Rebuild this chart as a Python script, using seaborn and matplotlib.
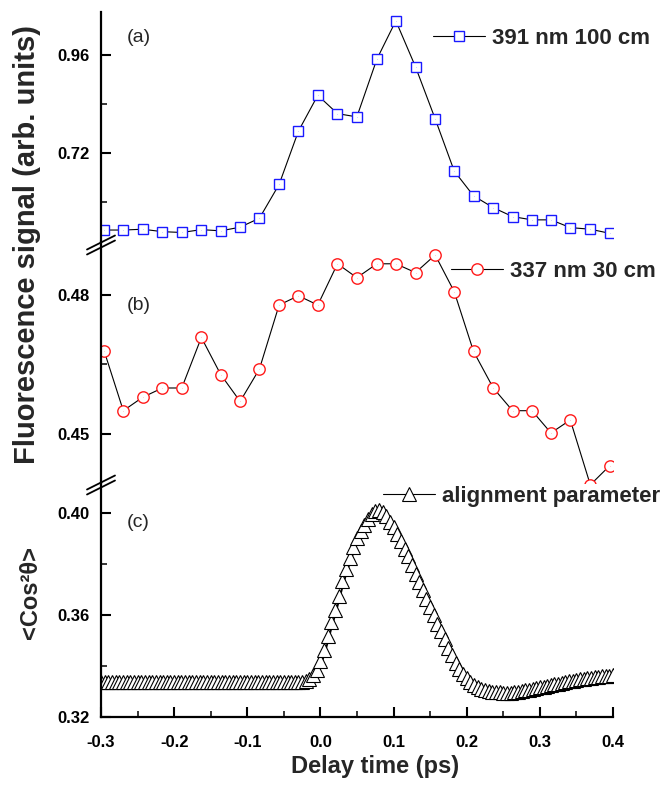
import matplotlib
matplotlib.use("Agg")
import matplotlib.pyplot as plt
import matplotlib.transforms as mtransforms
from matplotlib.lines import Line2D
from matplotlib.ticker import MultipleLocator, FormatStrFormatter
import seaborn as sns

# ---------------- data ----------------
delay_fluor = [-0.2955, -0.2695, -0.2430, -0.2161, -0.1896, -0.1628, -0.1363,
               -0.1098, -0.0834, -0.0565, -0.0301, -0.0036, 0.0233, 0.0498,
               0.0772, 0.1031, 0.1300, 0.1569, 0.1829, 0.2093, 0.2363,
               0.2627, 0.2892, 0.3152, 0.3416, 0.3690, 0.3953]

signal_391 = [0.530, 0.530, 0.532, 0.526, 0.524, 0.531, 0.528, 0.537, 0.559,
              0.642, 0.773, 0.861, 0.816, 0.808, 0.950, 1.044, 0.931, 0.803,
              0.675, 0.614, 0.585, 0.563, 0.555, 0.555, 0.536, 0.532, 0.522]

signal_337 = [0.4678, 0.4550, 0.4579, 0.4599, 0.4599, 0.4708, 0.4628, 0.4570,
              0.4640, 0.4778, 0.4798, 0.4778, 0.4867, 0.4837, 0.4867, 0.4867,
              0.4848, 0.4886, 0.4807, 0.4678, 0.4599, 0.4550, 0.4550, 0.4502,
              0.4530, 0.4390, 0.4431]

delay_align = [
    -0.300, -0.295, -0.290, -0.285, -0.280, -0.275, -0.270, -0.265, -0.260, -0.255,
    -0.250, -0.245, -0.240, -0.235, -0.230, -0.225, -0.220, -0.215, -0.210, -0.205,
    -0.200, -0.195, -0.190, -0.185, -0.180, -0.175, -0.170, -0.165, -0.160, -0.155,
    -0.150, -0.145, -0.140, -0.135, -0.130, -0.125, -0.120, -0.115, -0.110, -0.105,
    -0.100, -0.095, -0.090, -0.085, -0.080, -0.075, -0.070, -0.065, -0.060, -0.055,
    -0.050, -0.045, -0.040, -0.035, -0.030, -0.025, -0.020, -0.015, -0.010, -0.005,
    0.000, 0.005, 0.010, 0.015, 0.020, 0.025, 0.030, 0.035, 0.040, 0.045,
    0.050, 0.055, 0.060, 0.065, 0.070, 0.075, 0.080, 0.085, 0.090, 0.095,
    0.100, 0.105, 0.110, 0.115, 0.120, 0.125, 0.130, 0.135, 0.140, 0.145,
    0.150, 0.155, 0.160, 0.165, 0.170, 0.175, 0.180, 0.185, 0.190, 0.195,
    0.200, 0.205, 0.210, 0.215, 0.220, 0.225, 0.230, 0.235, 0.240, 0.245,
    0.250, 0.255, 0.260, 0.265, 0.270, 0.275, 0.280, 0.285, 0.290, 0.295,
    0.300, 0.305, 0.310, 0.315, 0.320, 0.325, 0.330, 0.335, 0.340, 0.345,
    0.350, 0.355, 0.360, 0.365, 0.370, 0.375, 0.380, 0.385, 0.390, 0.395,
    0.400]

cos2theta = [
    0.3335, 0.3335, 0.3335, 0.3335, 0.3335, 0.3335, 0.3335, 0.3335, 0.3335, 0.3335,
    0.3335, 0.3335, 0.3335, 0.3335, 0.3335, 0.3335, 0.3335, 0.3335, 0.3335, 0.3335,
    0.3335, 0.3335, 0.3335, 0.3335, 0.3335, 0.3335, 0.3335, 0.3335, 0.3335, 0.3335,
    0.3335, 0.3335, 0.3335, 0.3335, 0.3335, 0.3335, 0.3335, 0.3335, 0.3335, 0.3335,
    0.3335, 0.3335, 0.3335, 0.3335, 0.3335, 0.3335, 0.3335, 0.3335, 0.3335, 0.3335,
    0.3335, 0.3335, 0.3335, 0.3335, 0.3336, 0.3337, 0.3339, 0.3348, 0.3362, 0.3383,
    0.3418, 0.3462, 0.3515, 0.3570, 0.3620, 0.3674, 0.3730, 0.3779, 0.3822, 0.3864,
    0.3900, 0.3928, 0.3953, 0.3976, 0.3994, 0.4005, 0.4010, 0.4003, 0.3987, 0.3963,
    0.3943, 0.3917, 0.3888, 0.3858, 0.3829, 0.3796, 0.3761, 0.3729, 0.3696, 0.3661,
    0.3630, 0.3597, 0.3565, 0.3535, 0.3505, 0.3470, 0.3440, 0.3412, 0.3388, 0.3367,
    0.3350, 0.3336, 0.3325, 0.3316, 0.3309, 0.3304, 0.3300, 0.3298, 0.3296, 0.3295,
    0.3294, 0.3294, 0.3294, 0.3295, 0.3297, 0.3300, 0.3303, 0.3306, 0.3309, 0.3312,
    0.3315, 0.3318, 0.3321, 0.3324, 0.3327, 0.3330, 0.3333, 0.3336, 0.3339, 0.3341,
    0.3344, 0.3346, 0.3348, 0.3350, 0.3352, 0.3354, 0.3356, 0.3358, 0.3360, 0.3361,
    0.3363]

label_391 = "391 nm 100 cm"
label_337 = "337 nm 30 cm"
label_align = "alignment parameter"

# ---------------- style ----------------
sns.set_theme(style="white")
plt.rcParams["font.family"] = ["Liberation Sans", "DejaVu Sans"]
plt.rcParams["font.weight"] = "bold"
plt.rcParams["axes.unicode_minus"] = False

BLUE = "#1a1aff"
RED = "#ff1a1a"

W, H = 661, 785
fig = plt.figure(figsize=(W / 100, H / 100), dpi=100)


def fy(p):
    return 1 - p / H


L, R = 101 / W, 613 / W
ax_a = fig.add_axes([L, fy(242), R - L, fy(12) - fy(242)])
ax_b = fig.add_axes([L, fy(483), R - L, fy(242) - fy(483)])
ax_c = fig.add_axes([L, fy(716.7), R - L, fy(483) - fy(716.7)])

TRI = 9.6

# ---------------- panel (a) ----------------
sns.lineplot(x=delay_fluor, y=signal_391, ax=ax_a, color="black", linewidth=0.8,
             marker="s", markersize=7.5, markerfacecolor="white",
             markeredgecolor=BLUE, markeredgewidth=1.0, zorder=2)
sns.scatterplot(x=delay_fluor, y=signal_391, ax=ax_a, marker=".", s=2,
                color=BLUE, linewidth=0, legend=False, zorder=3)

# ---------------- panel (b) ----------------
sns.lineplot(x=delay_fluor, y=signal_337, ax=ax_b, color="black", linewidth=0.8,
             marker="o", markersize=8.2, markerfacecolor="white",
             markeredgecolor=RED, markeredgewidth=1.0, zorder=2)
sns.scatterplot(x=delay_fluor, y=signal_337, ax=ax_b, marker=".", s=2,
                color=RED, linewidth=0, legend=False, zorder=3)

# ---------------- panel (c) ----------------
line_off = mtransforms.offset_copy(ax_c.transData, fig=fig, x=0.5, y=-4, units="dots")
sns.lineplot(x=delay_align, y=cos2theta, ax=ax_c, color="black", linewidth=1.3,
             transform=line_off, zorder=1)
sns.lineplot(x=delay_align, y=cos2theta, ax=ax_c, linestyle="", marker="^",
             markersize=TRI, markerfacecolor="white", markeredgecolor="black",
             markeredgewidth=0.8, zorder=2)

# ---------------- axes styling ----------------
limits = {ax_a: (0.5006, 1.0657), ax_b: (0.4394, 0.4914), ax_c: (0.32, 0.4116)}
steps = {ax_a: (0.24, 0.12), ax_b: (0.03, 0.015), ax_c: (0.04, 0.02)}
for ax in (ax_a, ax_b, ax_c):
    ax.set_xlim(-0.3, 0.4)
    ax.set_ylim(*limits[ax])
    ax.set_facecolor("none")
    for s in ("top", "right", "bottom"):
        ax.spines[s].set_visible(False)
    ax.spines["left"].set_color("black")
    ax.spines["left"].set_linewidth(1.6)
    ax.yaxis.set_major_locator(MultipleLocator(steps[ax][0]))
    ax.yaxis.set_minor_locator(MultipleLocator(steps[ax][1]))
    ax.yaxis.set_major_formatter(FormatStrFormatter("%.2f"))
    ax.tick_params(axis="y", which="major", direction="in", length=7, width=1.5,
                   labelsize=12, pad=8, colors="black", left=True)
    ax.tick_params(axis="y", which="minor", direction="in", length=4, width=1.3,
                   left=True)
    ax.set_xlabel("")
    ax.set_ylabel("")
    if ax is not ax_c:
        ax.tick_params(axis="x", which="both", bottom=False, labelbottom=False)

ax_c.spines["bottom"].set_visible(True)
ax_c.spines["bottom"].set_color("black")
ax_c.spines["bottom"].set_linewidth(1.6)
ax_c.xaxis.set_major_locator(MultipleLocator(0.1))
ax_c.xaxis.set_minor_locator(MultipleLocator(0.05))
ax_c.xaxis.set_major_formatter(FormatStrFormatter("%.1f"))
ax_c.tick_params(axis="x", which="major", direction="in", length=7, width=1.5,
                 labelsize=12, pad=13, colors="black", bottom=True)
ax_c.tick_params(axis="x", which="minor", direction="in", length=4, width=1.3,
                 bottom=True)
ax_c.set_xlabel("Delay time (ps)", fontsize=17, fontweight="bold")
ax_c.xaxis.set_label_coords(0.535, -0.163)
ax_c.xaxis.label.set_va("top")

# ---------------- legends ----------------
leg_kw = dict(loc="center left", frameon=False, borderpad=0, borderaxespad=0,
              handlelength=2.35, handletextpad=0.3, numpoints=1,
              prop={"size": 16, "weight": "bold"}, bbox_transform=fig.transFigure)
h_a = Line2D([], [], color="black", lw=0.8, marker="s", ms=7.5, mfc="white",
             mec=BLUE, mew=1.0)
h_b = Line2D([], [], color="black", lw=0.8, marker="o", ms=8.2, mfc="white",
             mec=RED, mew=1.0)
h_c = Line2D([], [], color="black", lw=0.8, marker="^", ms=TRI, mfc="white",
             mec="black", mew=0.8)
ax_a.legend([h_a], [label_391], bbox_to_anchor=(433 / W, fy(38)), **leg_kw)
ax_b.legend([h_b], [label_337], bbox_to_anchor=(451 / W, fy(271.7)), **leg_kw)
ax_c.legend([h_c], [label_align], bbox_to_anchor=(382.7 / W, fy(496.7)), **leg_kw)

# ---------------- panel letters ----------------
ax_a.text(0.0736, 0.89, "(a)", transform=ax_a.transAxes, fontsize=14,
          fontweight="normal", ha="center", va="center")
ax_b.text(0.0736, 0.7375, "(b)", transform=ax_b.transAxes, fontsize=14,
          fontweight="normal", ha="center", va="center")
ax_c.text(0.0736, 0.831, "(c)", transform=ax_c.transAxes, fontsize=14,
          fontweight="normal", ha="center", va="center")

# ---------------- y labels ----------------
fig.text(27 / W, fy(245), "Fluorescence signal (arb. units)", rotation=90,
         fontsize=21, fontweight="bold", ha="center", va="center")
fig.text(31 / W, fy(592.5), "<Cos\u00b2\u03b8>", rotation=90,
         fontsize=17, fontweight="bold", ha="center", va="center")

# ---------------- axis break marks ----------------
for yb in (245, 485):
    for dy in (-2.5, 2.5):
        fig.add_artist(Line2D([87 / W, 115 / W],
                              [fy(yb + dy + 7), fy(yb + dy - 7)],
                              transform=fig.transFigure, color="black", lw=1.3))

fig.savefig("out.png", dpi=100)
